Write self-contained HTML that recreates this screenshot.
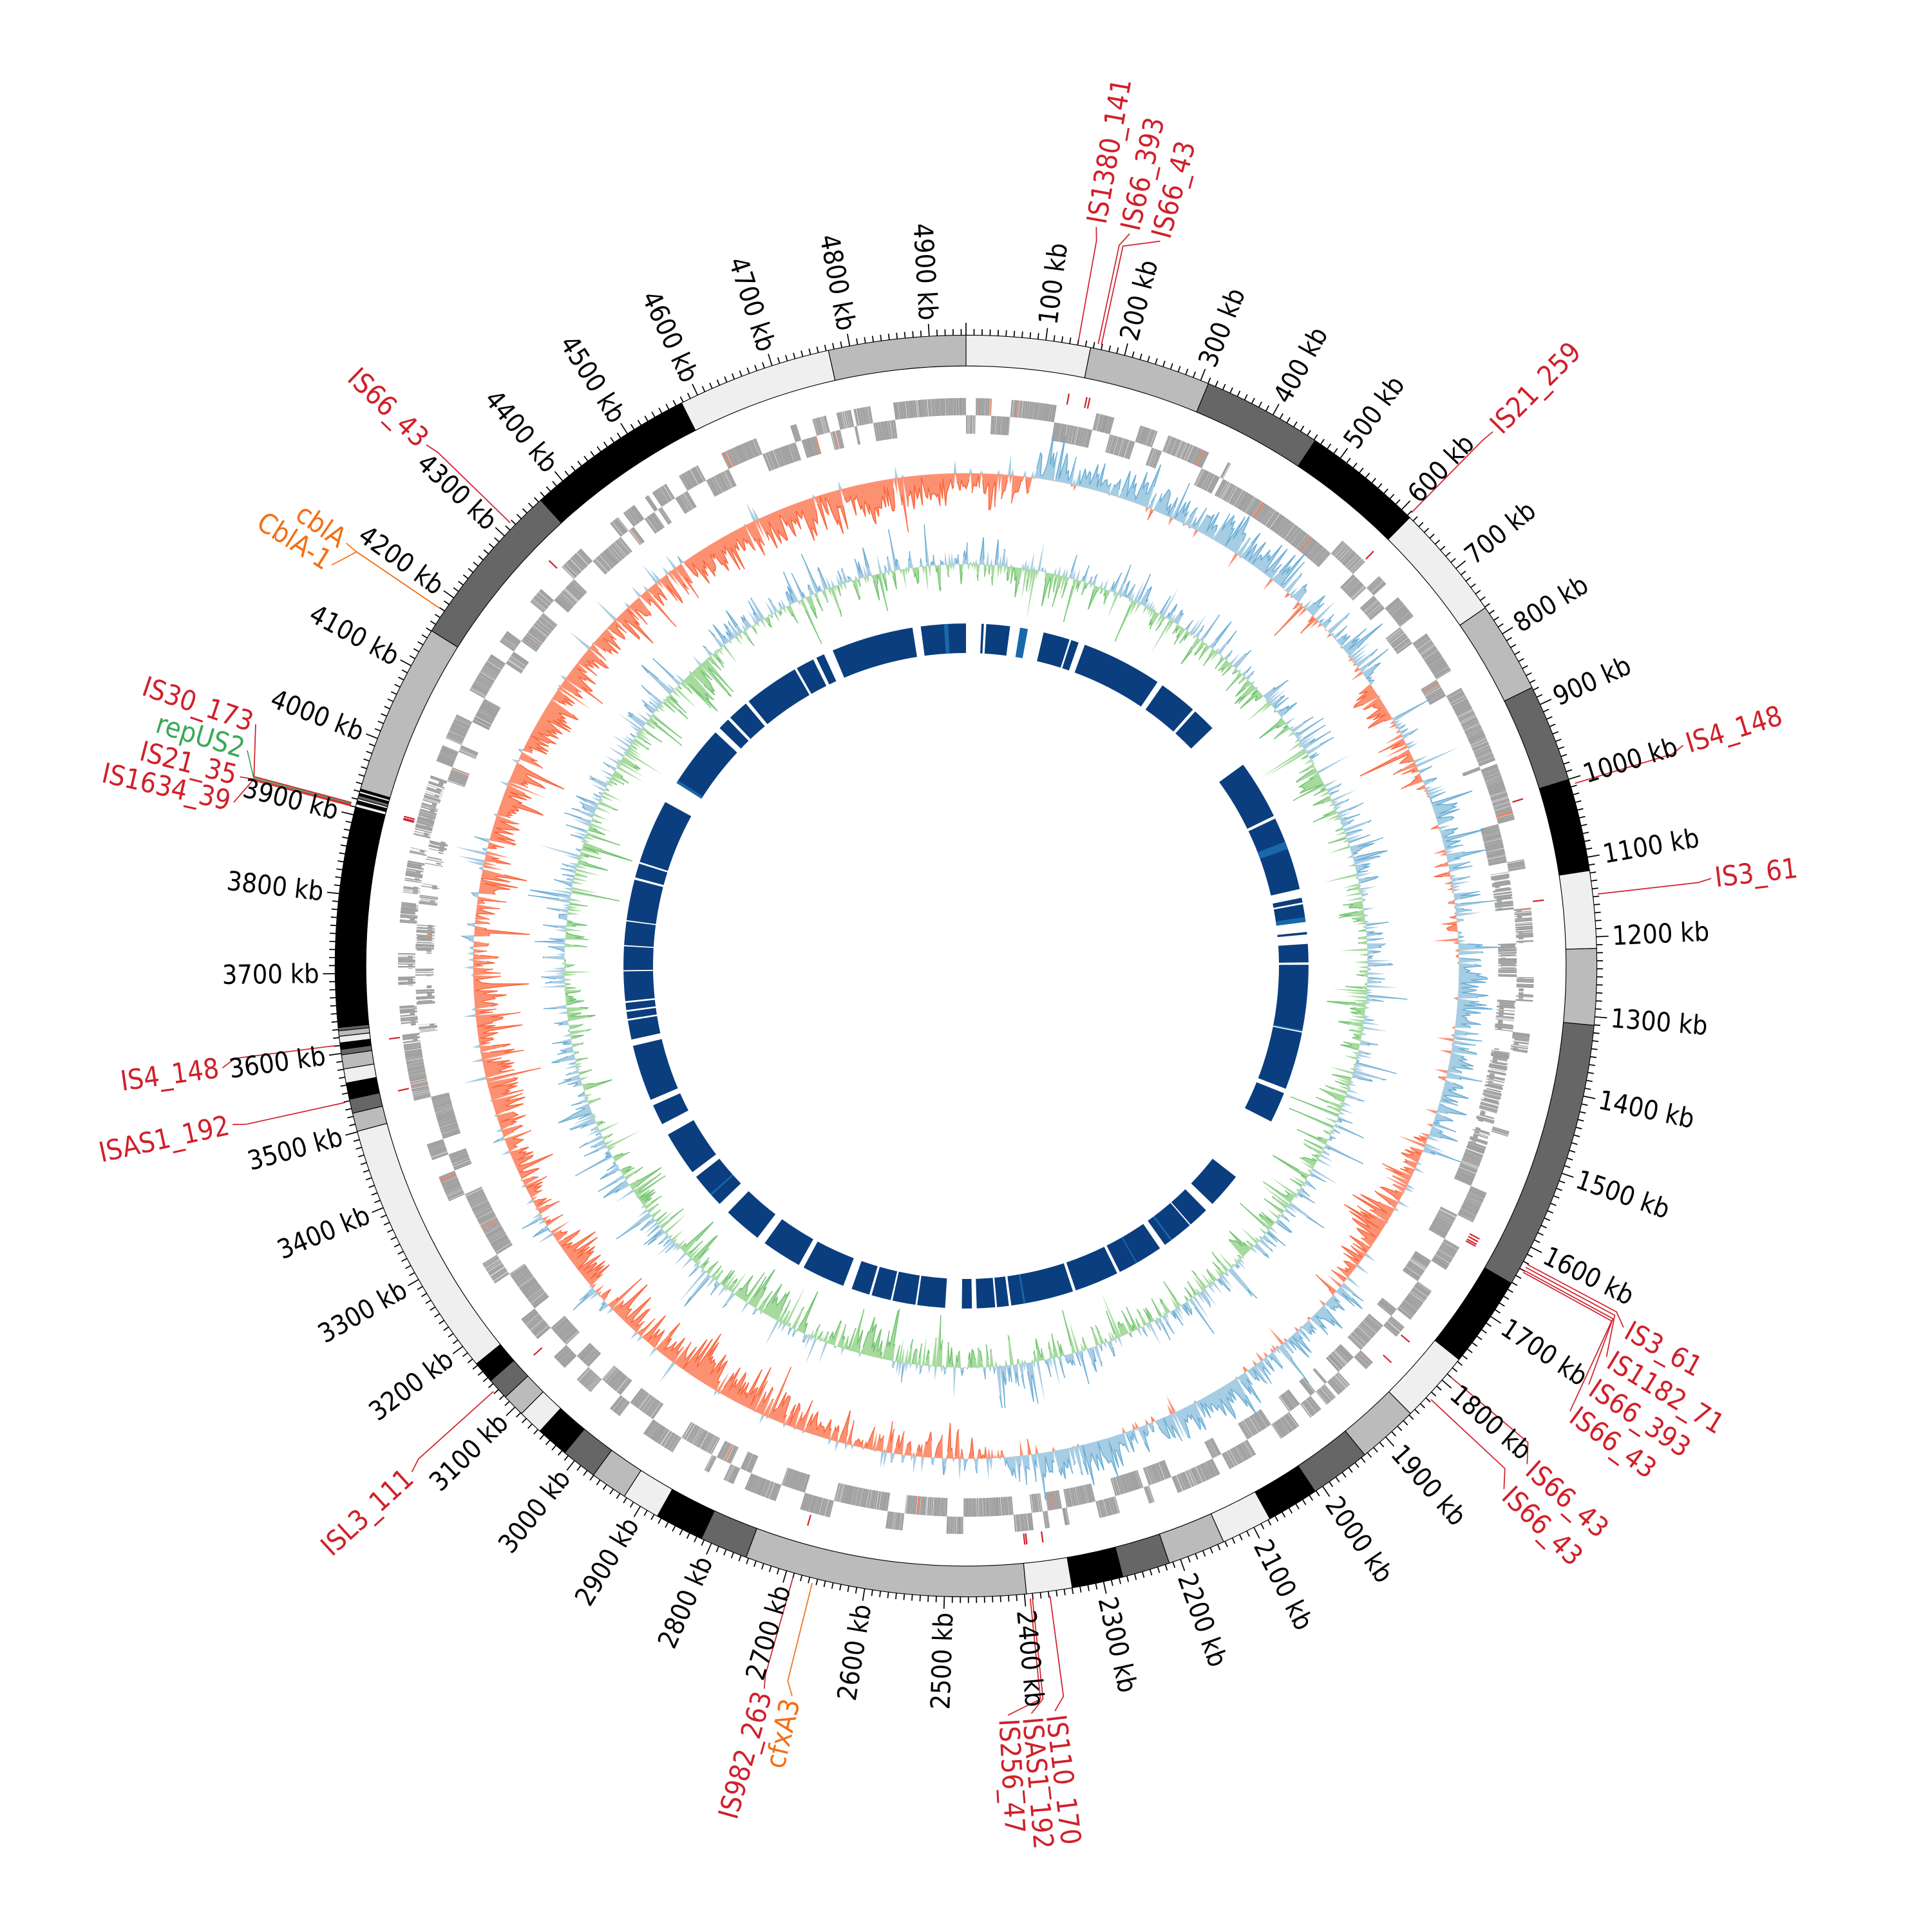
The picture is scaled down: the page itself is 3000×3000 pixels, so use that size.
<!DOCTYPE html>
<html><head><meta charset="utf-8">
<style>
html,body{margin:0;padding:0;background:#fff;}
svg{display:block;}
.tk{font-family:"DejaVu Sans Condensed","DejaVu Sans","Liberation Sans",sans-serif;font-stretch:condensed;font-size:21.5px;fill:#000;}
.fl{font-family:"DejaVu Sans Condensed","DejaVu Sans","Liberation Sans",sans-serif;font-stretch:condensed;font-size:22.5px;}
</style></head>
<body>
<svg id="S" xmlns="http://www.w3.org/2000/svg" width="3000" height="3000" viewBox="0 0 1568 1568">
<rect width="1568" height="1568" fill="#fff"/>
<g id="tracks"></g>
<g id="tl" class="tk">
<text>100 kb</text><text>200 kb</text><text>300 kb</text><text>400 kb</text><text>500 kb</text><text>600 kb</text><text>700 kb</text><text>800 kb</text><text>900 kb</text><text>1000 kb</text>
<text>1100 kb</text><text>1200 kb</text><text>1300 kb</text><text>1400 kb</text><text>1500 kb</text><text>1600 kb</text><text>1700 kb</text><text>1800 kb</text><text>1900 kb</text><text>2000 kb</text>
<text>2100 kb</text><text>2200 kb</text><text>2300 kb</text><text>2400 kb</text><text>2500 kb</text><text>2600 kb</text><text>2700 kb</text><text>2800 kb</text><text>2900 kb</text><text>3000 kb</text>
<text>3100 kb</text><text>3200 kb</text><text>3300 kb</text><text>3400 kb</text><text>3500 kb</text><text>3600 kb</text><text>3700 kb</text><text>3800 kb</text><text>3900 kb</text><text>4000 kb</text>
<text>4100 kb</text><text>4200 kb</text><text>4300 kb</text><text>4400 kb</text><text>4500 kb</text><text>4600 kb</text><text>4700 kb</text><text>4800 kb</text><text>4900 kb</text>
</g>
<g id="fl" class="fl">
<text>IS1380_141</text>
<text>IS66_393</text>
<text>IS66_43</text>
<text>IS21_259</text>
<text>IS4_148</text>
<text>IS3_61</text>
<text>IS3_61</text>
<text>IS1182_71</text>
<text>IS66_393</text>
<text>IS66_43</text>
<text>IS66_43</text>
<text>IS66_43</text>
<text>IS110_170</text>
<text>ISAS1_192</text>
<text>IS256_47</text>
<text>cfxA3</text>
<text>IS982_263</text>
<text>ISL3_111</text>
<text>ISAS1_192</text>
<text>IS4_148</text>
<text>IS1634_39</text>
<text>IS21_35</text>
<text>repUS2</text>
<text>IS30_173</text>
<text>cblA</text>
<text>CblA-1</text>
<text>IS66_43</text>
</g>
</svg>
<script>
(function(){
var NS="http://www.w3.org/2000/svg";
var cx=784,cy=784,L=4946;
function f(n){return Math.round(n*100)/100;}
function P(r,a){var t=a*Math.PI/180;return [f(cx+r*Math.sin(t)),f(cy-r*Math.cos(t))];}
function sector(a1,a2,r1,r2){
  var p1=P(r2,a1),p2=P(r2,a2),p3=P(r1,a2),p4=P(r1,a1);var lg=(a2-a1)>180?1:0;
  return "M"+p1+"A"+r2+","+r2+" 0 "+lg+" 1 "+p2+"L"+p3+"A"+r1+","+r1+" 0 "+lg+" 0 "+p4+"Z";
}
var T=document.getElementById("tracks");
function add(tag,attrs){var e=document.createElementNS(NS,tag);for(var k in attrs)e.setAttribute(k,attrs[k]);T.appendChild(e);return e;}
var seed=12345;function rng(){seed|=0;seed=seed+0x6D2B79F5|0;var t=Math.imul(seed^seed>>>15,1|seed);t=t+Math.imul(t^t>>>7,61|t)^t;return((t^t>>>14)>>>0)/4294967296;}
function gauss(){var u=rng()||1e-9,v=rng();return Math.sqrt(-2*Math.log(u))*Math.cos(2*Math.PI*v);}

var C={l:"#efefef",m:"#bbbbbb",d:"#666666",b:"#000000"};
var bands=[[0,11.4,"l"],[11.4,22.6,"m"],[22.6,33.6,"d"],[33.6,44.7,"b"],[44.7,55.4,"l"],[55.4,63.8,"m"],[63.8,72.8,"d"],[72.8,81.3,"b"],[81.3,88.4,"l"],[88.4,95.4,"m"],[95.4,120.2,"d"],[120.2,128.6,"b"],[128.6,135.2,"l"],[135.2,140.8,"m"],[140.8,146.4,"d"],[146.4,151.2,"b"],[151.2,155.9,"l"],[155.9,161.2,"m"],[161.2,165.6,"d"],[165.6,170.3,"b"],[170.3,174.5,"l"],[174.5,200.4,"m"],[200.4,204.8,"d"],[204.8,209.3,"b"],[209.3,212.8,"l"],[212.8,216.2,"m"],[216.2,219.5,"d"],[219.5,222.5,"b"],[222.5,224.8,"l"],[224.8,226.9,"m"],[226.9,228.9,"d"],[228.9,230.9,"b"],[230.9,254.8,"l"],[254.8,256.5,"m"],[256.5,257.8,"d"],[257.8,259.3,"b"],[259.3,260.6,"l"],[260.6,261.9,"m"],[261.9,262.4,"d"],[262.4,263.0,"b"],[263.0,263.6,"l"],[263.6,264.1,"m"],[264.1,264.4,"d"],[264.4,284.6,"b"],[284.6,284.9,"l"],[284.9,285.2,"b"],[285.2,285.4,"l"],[285.4,285.7,"d"],[285.7,285.9,"b"],[285.9,286.1,"l"],[286.1,286.3,"b"],[286.3,302.1,"m"],[302.1,317.6,"d"],[317.6,333.2,"b"],[333.2,347.4,"l"],[347.4,360,"m"]];
bands.forEach(function(b){add("path",{d:sector(b[0],b[1],487,512),fill:C[b[2]],stroke:"#000","stroke-width":0.6});});

var td="";
for(var kb=0;kb<L;kb+=10){var a=kb/L*360;var len=(kb%100===0)?10:5;var p=P(512,a),q=P(512+len,a);td+="M"+p+"L"+q;}
add("path",{d:td,stroke:"#000","stroke-width":0.9,fill:"none"});

/* gene track */
var g1="",g2="";var a=0,run=0,strand=0;
while(a<360){
  if(run<=0){strand=rng()<0.5?0:1;run=3+Math.floor(rng()*16);}
  var len=0.03+rng()*0.14;var e=Math.min(a+len,360);
  var sparse=(a>80&&a<110)||(a>262&&a<290);
  var r1=strand?432:447,r2=strand?447:461;
  if(sparse&&rng()<0.4){r1=strand?434:449;r2=r1+(rng()<0.5?4:12);}
  if(rng()<0.01) g2+=sector(a,e,r1,r2); else g1+=sector(a,e,r1,r2);
  a=e+(rng()<0.75?0.01:rng()*(sparse?0.15:0.05));run--;
}
add("path",{d:g1,fill:"#9c9c9c"});
add("path",{d:g2,fill:"#f4774f"});

function lowfreq(nk,amp){var comps=[];for(var k=3;k<nk;k++)comps.push([k,rng()*6.283,amp*(rng())/Math.sqrt(k)]);return function(a){var t=a*Math.PI/180,s=0;comps.forEach(function(c){s+=c[2]*Math.sin(c[0]*t+c[1]);});return s;};}
function drawTrack(r0,vals,N,posFill,posLine,negFill,negLine){
  var cp="",cn="",lp="",ln="",inP=false,inN=false;
  for(var i=0;i<=N;i++){
    var an=i/N*360,v=vals[i%N];
    var pp=P(r0+Math.max(v,0),an),pn=P(r0+Math.min(v,0),an);
    cp+=(i?"L":"M")+pp;cn+=(i?"L":"M")+pn;
    if(v>0.3){lp+=(inP?"L":"M")+pp;inP=true;}else inP=false;
    if(v<-0.3){ln+=(inN?"L":"M")+pn;inN=true;}else inN=false;
  }
  var b1=P(r0,0),b2=P(r0,180);
  var circ="M"+b1+"A"+r0+","+r0+" 0 1 0 "+b2+"A"+r0+","+r0+" 0 1 0 "+b1+"Z";
  add("path",{d:cp+"Z"+circ,fill:posFill,"fill-rule":"evenodd"});
  add("path",{d:cn+"Z"+circ,fill:negFill,"fill-rule":"evenodd"});
  add("path",{d:lp,fill:"none",stroke:posLine,"stroke-width":0.8});
  add("path",{d:ln,fill:"none",stroke:negLine,"stroke-width":0.8});
}
var N=2000;
function biasSk(a){
  if(a<8)return -8;if(a<55)return 8;if(a<68)return -7;if(a<112)return 9;if(a<130)return -8;
  if(a<175)return 7;if(a<200)return -4;if(a<345)return -11;return -9;}
var lf1=lowfreq(40,5);var sk=[];
for(var i=0;i<N;i++){var an=i/N*360;var h=gauss()*8;if(rng()<0.12)h*=2.2;
  var v=biasSk(an)*(0.7+0.6*rng())+lf1(an)+h;sk.push(Math.max(-45,Math.min(38,v)));}
drawTrack(400,sk,N,"#a6cde3","#6aaed6","#fc9172","#f9673f");
var lf2=lowfreq(50,6);var gc=[];
for(var i=0;i<N;i++){var an=i/N*360;var h=gauss()*10;if(rng()<0.14)h*=2.2;
  var b=(an>160&&an<215)?-5:0;
  var v=b+lf2(an)+h;gc.push(Math.max(-42,Math.min(34,v)));}
drawTrack(326,gc,N,"#a9cde3","#6aaed6","#a6da9e","#72c472");

var gaps=[[0,2.6],[3.0,3.4],[7.4,9.1],[10.4,13.1],[17.6,17.9],[19.2,20.3],[34,35],[41.5,42],[46,54],[64,64.5],[77,78.5],[79.3,79.6],[82.6,84.3],[84.7,86.3],[89.4,89.8],[101,101.2],[111,111.8],[117,128],[134,135.5],[139,139.2],[144.5,145.5],[153.3,153.8],[161.3,161.8],[172.4,172.8],[174.8,175.1],[178.2,179],[180.7,183.5],[188.2,188.5],[192.4,192.7],[196,196.4],[199.5,201],[208.3,209.2],[216,217.5],[224,226],[232,233],[240.5,242.5],[246,247],[256.5,257.6],[260.8,261.1],[262.3,262.6],[263.8,264.1],[269.1,269.3],[273.3,273.5],[277.5,277.7],[284.6,285],[287.4,287.7],[298.6,302.3],[313,314],[316,316.5],[320,320.6],[330,330.4],[333.5,334.1],[335.5,337.1],[351,352.4]];
var nd="",prev=0;
gaps.forEach(function(g){if(g[0]>prev)nd+=sector(prev,g[0],254,278);prev=g[1];});
if(prev<360)nd+=sector(prev,360,254,278);
add("path",{d:nd,fill:"#0b3e7e"});
var lights=[[9.1,10.4],[68.7,70],[81.8,82.6],[356.3,357],[302.3,302.8],[100.8,101],[228,228.3],[143,143.3],[170,170.3],[150,150.2]];
var ld="";lights.forEach(function(l){ld+=sector(l[0],l[1],254,278);});
add("path",{d:ld,fill:"#1868ac"});

var tl=document.getElementById("tl").getElementsByTagName("text");
function place(el,an,r){
  el.setAttribute("y",cy);el.setAttribute("dominant-baseline","central");
  if(an<180){el.setAttribute("transform","rotate("+f(an-90)+" "+cx+" "+cy+")");el.setAttribute("x",cx+r);el.setAttribute("text-anchor","start");}
  else{el.setAttribute("transform","rotate("+f(an+90)+" "+cx+" "+cy+")");el.setAttribute("x",cx-r);el.setAttribute("text-anchor","end");}
}
for(var i=0;i<tl.length;i++){var k=parseInt(tl[i].textContent);place(tl[i],k/L*360,525);}

var R="#d0202a",O="#f36f16",G="#3aa858";
var F=[[10.2,10.0,R],[12.0,12.6,R],[12.3,15.0,R],[44.5,44.6,R],[73.3,72.9,R],[83.5,83.3,R],
[118.0,118.8,R],[118.3,121.4,R],[118.6,123.9,R],[118.8,126.4,R],[130.3,131.6,R],[133.0,134.2,R],
[172.4,173.2,R],[174.0,175.0,R],[174.2,176.8,R],[194.0,193.4,O],[195.8,195.6,R],[228.0,227.6,R],
[257.6,257.8,R],[262.8,262.2,R],[284.6,282.6,R],[284.7,284.6,R],[284.8,286.7,G],[284.9,288.8,R],
[304.2,304.3,O],[304.2,302.3,O],[314.2,314.0,R]];
var fl=document.getElementById("fl").getElementsByTagName("text");
var md="";
for(var i=0;i<F.length;i++){
  var m=F[i][0],l=F[i][1],col=F[i][2];
  fl[i].setAttribute("fill",col);place(fl[i],l,612);
  var p1=P(516,m),p2=P(598,m),p3=P(609,l);
  add("polyline",{points:p1+" "+p2+" "+p3,fill:"none",stroke:col,"stroke-width":0.9});
  if(col===R)md+=sector(m-0.07,m+0.07,463,472);
}
add("path",{d:md,fill:"#d0202a"});
})();
</script>
</body></html>
